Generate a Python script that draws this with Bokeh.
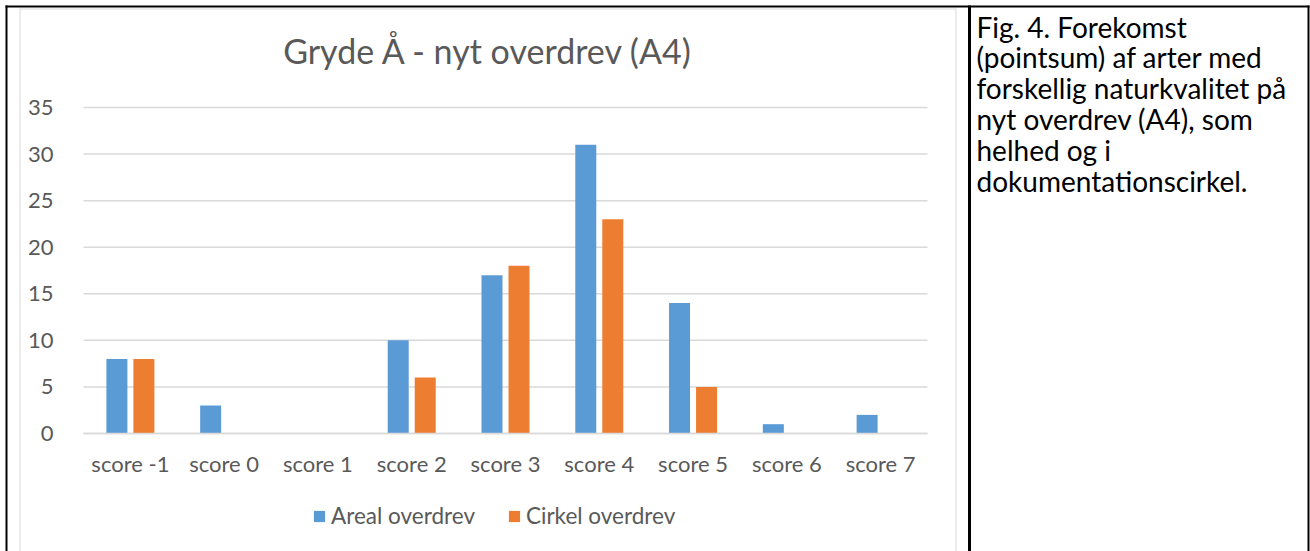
from bokeh.plotting import figure
from bokeh.models import (ColumnDataSource, Range1d, FixedTicker, Legend, LegendItem,
                          Label, BoxAnnotation, LinearAxis)
from bokeh.transform import dodge
from bokeh.embed import file_html
from bokeh.resources import INLINE

# ---- data ----
categories = ["score -1", "score 0", "score 1", "score 2", "score 3",
              "score 4", "score 5", "score 6", "score 7"]
areal_overdrev = [8, 3, 0, 10, 17, 31, 14, 1, 2]
cirkel_overdrev = [8, 0, 0, 6, 18, 23, 5, 0, 0]
y_ticks = [0, 5, 10, 15, 20, 25, 30, 35]
series_names = ["Areal overdrev", "Cirkel overdrev"]
title_text = "Gryde Å - nyt overdrev (A4)"
caption_lines = ["Fig. 4. Forekomst",
                 "(pointsum) af arter med",
                 "forskellig naturkvalitet på",
                 "nyt overdrev (A4), som",
                 "helhed og i",
                 "dokumentationscirkel."]

BLUE = "#5B9BD5"
ORANGE = "#ED7D31"
TXT = "#595959"
GRID = "#d9d9d9"
FONT = "Lato"

W, H = 1310, 551
# plot-area placement on the page (pixels)
PL, PR, PT, PB = 83, 927, 107, 433
n = len(categories)
ymax = max(y_ticks)
cw = (PR - PL) / n
yk = (PB - PT) / ymax
x_start = -0.5 - PL / cw
x_end = n - 0.5 + (W - PR) / cw
y_start = -(H - PB) / yk
y_end = ymax + PT / yk

idx = list(range(n))
source = ColumnDataSource(dict(idx=idx, cat=categories,
                               areal=areal_overdrev, cirkel=cirkel_overdrev))

p = figure(width=W, height=H, x_range=Range1d(x_start, x_end), y_range=Range1d(y_start, y_end),
           x_axis_type=None, y_axis_type=None, output_backend="svg",
           toolbar_location=None, min_border=0)
p.extra_x_ranges = {"px": Range1d(0, W)}
p.extra_y_ranges = {"px": Range1d(H, 0)}
p.outline_line_color = None
p.xgrid.visible = False
p.ygrid.visible = False
p.background_fill_color = "white"
p.border_fill_color = "white"

# gridlines (at the tick values, across the category span)
p.segment(x0=[-0.5] * len(y_ticks), x1=[n - 0.5] * len(y_ticks), y0=y_ticks, y1=y_ticks,
          line_color=GRID, line_width=1.5)

r1 = p.vbar(x=dodge("idx", -0.144), top="areal", width=0.224,
            source=source, fill_color=BLUE, line_color=None)
r2 = p.vbar(x=dodge("idx", 0.144), top="cirkel", width=0.224,
            source=source, fill_color=ORANGE, line_color=None)

xaxis = LinearAxis(fixed_location=0, ticker=FixedTicker(ticks=idx),
                   major_label_overrides={i: c for i, c in enumerate(categories)},
                   bounds=(-0.5, n - 0.5), axis_line_color=GRID, axis_line_width=1.5,
                   major_label_standoff=10)
yaxis = LinearAxis(fixed_location=-0.5, ticker=FixedTicker(ticks=y_ticks),
                   bounds=(0, ymax), axis_line_color=None, major_label_standoff=24)
for ax in (xaxis, yaxis):
    ax.major_tick_line_color = None
    ax.minor_tick_line_color = None
    ax.major_label_text_font = FONT
    ax.major_label_text_font_size = "22px"
    ax.major_label_text_color = TXT
p.add_layout(xaxis, "below")
p.add_layout(yaxis, "left")

legend = Legend(items=[LegendItem(label=series_names[0], renderers=[r1]),
                       LegendItem(label=series_names[1], renderers=[r2])],
                location=(312, 22), orientation="horizontal",
                border_line_color=None, background_fill_alpha=0,
                padding=0, margin=0, spacing=32, label_standoff=5,
                glyph_width=14, glyph_height=14,
                label_text_font=FONT, label_text_font_size="22.5px",
                label_text_color=TXT)
p.add_layout(legend)

p.add_layout(Label(x=488, y=50, x_range_name="px", y_range_name="px",
                   text=title_text, text_align="center", text_baseline="alphabetic",
                   text_font=FONT, text_font_size="34px", text_color=TXT))

for i, line in enumerate(caption_lines):
    p.add_layout(Label(x=976, y=26 + 30.8 * i, x_range_name="px", y_range_name="px",
                       text=line, text_align="left", text_baseline="alphabetic",
                       text_font=FONT, text_font_size="28px", text_color="black"))


def rule(left, right, top, bottom, color):
    p.add_layout(BoxAnnotation(left=left, right=right, top=top, bottom=bottom,
                               x_range_name="px", y_range_name="px",
                               fill_color=color, fill_alpha=1, line_color=None))


# chart-area border (light gray) and table borders (black)
rule(19, 20, 8, H + 5, GRID)
rule(19, 956, 8, 9, GRID)
rule(955, 956, 8, H + 5, GRID)
rule(5, 1309, 5, 7, "black")
rule(5, 7, 5, H + 5, "black")
rule(967.5, 970.5, 5, H + 5, "black")
rule(1307, 1309, 5, H + 5, "black")

open("out.html", "w").write(file_html(p, INLINE))
